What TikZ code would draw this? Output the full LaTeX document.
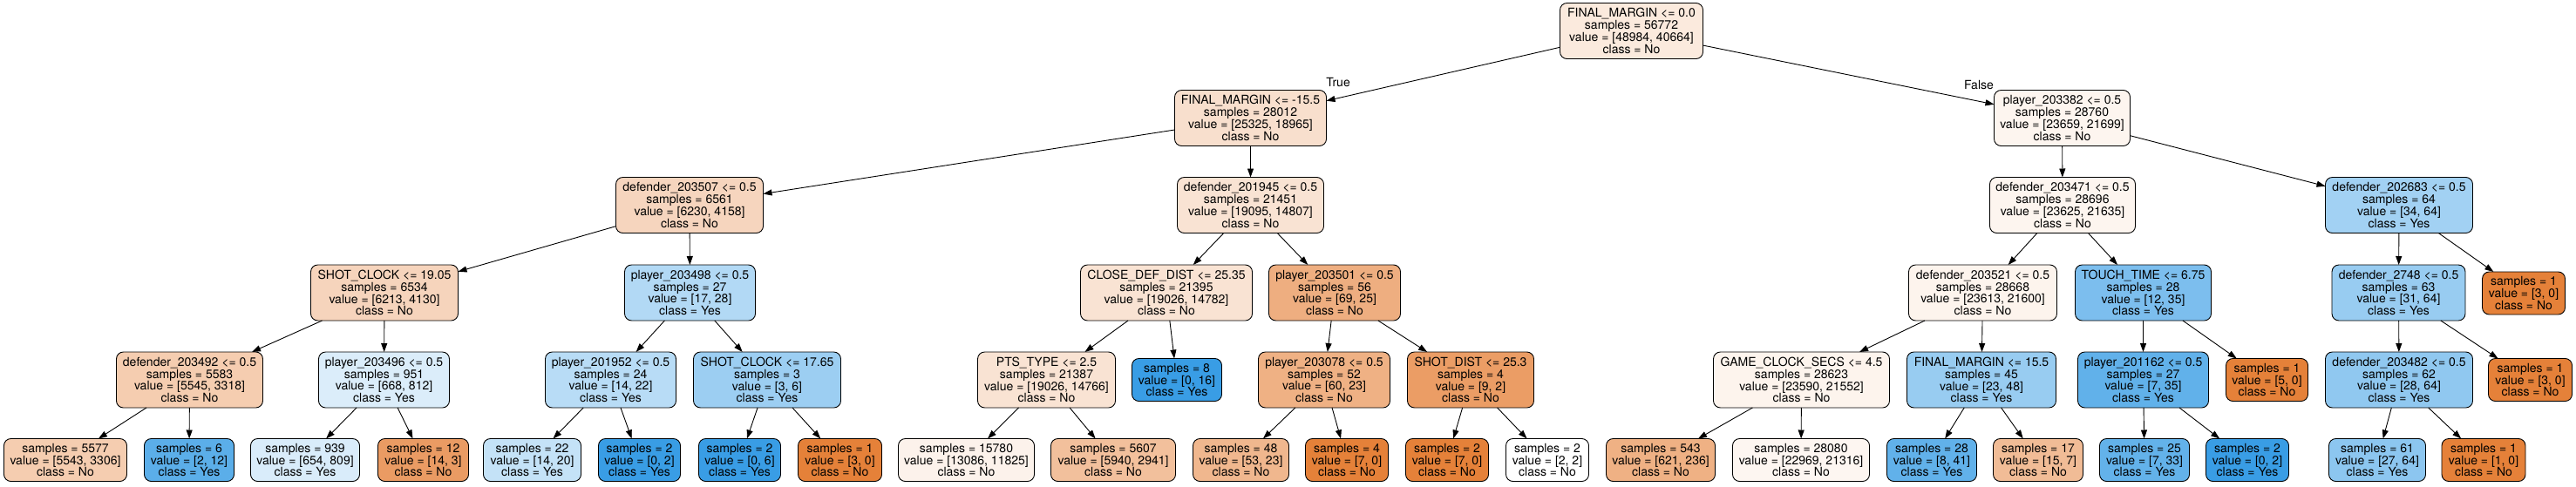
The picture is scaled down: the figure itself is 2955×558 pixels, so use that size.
\documentclass[tikz,border=0pt]{standalone}
\usepackage{fontspec}
\setmainfont{TeX Gyre Heros}
\usetikzlibrary{arrows.meta}
\definecolor{cno}{HTML}{E58139}
\definecolor{cyes}{HTML}{399DE5}
\newcommand{\fs}{\fontsize{14}{13.9}\selectfont}
\tikzset{
  box/.style={draw=black, line width=0.9pt, rounded corners=8pt, align=center,
    inner xsep=3pt, inner ysep=0pt, outer sep=0pt, font=\fs, text=black},
  dn/.style={box, minimum height=64pt},
  lf/.style={box, minimum height=49pt},
  arr/.style={-{Triangle[length=10pt,width=7pt]}, line width=0.9pt, draw=black},
  elab/.style={font=\fs, inner sep=0pt, anchor=base},
}
\newcommand{\dnode}[6]{\node[dn, fill=#5, minimum width=#4pt] (#1) at (#2,#3) {#6};}
\newcommand{\lnode}[6]{\node[lf, fill=#5, minimum width=#4pt] (#1) at (#2,#3) {#6};}
\begin{document}
\begin{tikzpicture}[x=1pt,y=-1pt]
\fill[white] (0,0) rectangle (2955,558);
\useasboundingbox (0,0) rectangle (2955,558);
% level 0
\dnode{root}{1871.5}{35.5}{164}{cno!17}{FINAL\_MARGIN <= 0.0\\samples = 56772\\value = [48984, 40664]\\class = No}
% level 1
\dnode{n1}{1434.5}{135.5}{174}{cno!25}{FINAL\_MARGIN <= -15.5\\samples = 28012\\value = [25325, 18965]\\class = No}
\dnode{n2}{2365.5}{135.5}{156}{cno!8}{player\_203382 <= 0.5\\samples = 28760\\value = [23659, 21699]\\class = No}
% level 2
\dnode{a1}{791}{235.5}{169}{cno!33}{defender\_203507 <= 0.5\\samples = 6561\\value = [6230, 4158]\\class = No}
\dnode{a2}{1434.5}{235.5}{168}{cno!22}{defender\_201945 <= 0.5\\samples = 21451\\value = [19095, 14807]\\class = No}
\dnode{a3}{2366}{235.5}{167}{cno!8}{defender\_203471 <= 0.5\\samples = 28696\\value = [23625, 21635]\\class = No}
\dnode{a4}{2752}{235.5}{169}{cyes!47}{defender\_202683 <= 0.5\\samples = 64\\value = [34, 64]\\class = Yes}
% level 3
\dnode{b1}{441}{336}{169}{cno!34}{SHOT\_CLOCK <= 19.05\\samples = 6534\\value = [6213, 4130]\\class = No}
\dnode{b2}{791.5}{336}{150}{cyes!39}{player\_203498 <= 0.5\\samples = 27\\value = [17, 28]\\class = Yes}
\dnode{b3}{1338}{336}{197}{cno!22}{CLOSE\_DEF\_DIST <= 25.35\\samples = 21395\\value = [19026, 14782]\\class = No}
\dnode{b4}{1531}{336}{151}{cno!64}{player\_203501 <= 0.5\\samples = 56\\value = [69, 25]\\class = No}
\dnode{b5}{2274.5}{336}{170}{cno!9}{defender\_203521 <= 0.5\\samples = 28668\\value = [23613, 21600]\\class = No}
\dnode{b6}{2458.5}{336}{156}{cyes!66}{TOUCH\_TIME <= 6.75\\samples = 28\\value = [12, 35]\\class = Yes}
\dnode{b7}{2751.5}{336}{153}{cyes!52}{defender\_2748 <= 0.5\\samples = 63\\value = [31, 64]\\class = Yes}
\lnode{b8}{2895}{336.5}{95}{cno}{samples = 1\\value = [3, 0]\\class = No}
% level 4
\dnode{c1}{217.5}{436}{168}{cno!40}{defender\_203492 <= 0.5\\samples = 5583\\value = [5545, 3318]\\class = No}
\dnode{c2}{440.5}{436}{150}{cyes!18}{player\_203496 <= 0.5\\samples = 951\\value = [668, 812]\\class = Yes}
\dnode{c3}{700.5}{436}{150}{cyes!36}{player\_201952 <= 0.5\\samples = 24\\value = [14, 22]\\class = Yes}
\dnode{c4}{880}{436}{169}{cyes!50}{SHOT\_CLOCK <= 17.65\\samples = 3\\value = [3, 6]\\class = Yes}
\dnode{c5}{1200.5}{436}{158}{cno!22}{PTS\_TYPE <= 2.5\\samples = 21387\\value = [19026, 14766]\\class = No}
\lnode{c6}{1350}{436}{103}{cyes}{samples = 8\\value = [0, 16]\\class = Yes}
\dnode{c7}{1519}{436}{151}{cno!62}{player\_203078 <= 0.5\\samples = 52\\value = [60, 23]\\class = No}
\dnode{c8}{1687}{436}{145}{cno!78}{SHOT\_DIST <= 25.3\\samples = 4\\value = [9, 2]\\class = No}
\dnode{c9}{2066.5}{436}{202}{cno!9}{GAME\_CLOCK\_SECS <= 4.5\\samples = 28623\\value = [23590, 21552]\\class = No}
\dnode{c10}{2273}{436}{171}{cyes!52}{FINAL\_MARGIN <= 15.5\\samples = 45\\value = [23, 48]\\class = Yes}
\dnode{c11}{2458.5}{436}{150}{cyes!80}{player\_201162 <= 0.5\\samples = 27\\value = [7, 35]\\class = Yes}
\lnode{c12}{2600.5}{436}{94}{cno}{samples = 1\\value = [5, 0]\\class = No}
\dnode{c13}{2752}{436}{169}{cyes!56}{defender\_203482 <= 0.5\\samples = 62\\value = [28, 64]\\class = Yes}
\lnode{c14}{2902.5}{436}{96}{cno}{samples = 1\\value = [3, 0]\\class = No}
% level 5
\lnode{d1}{75}{528}{141}{cno!40}{samples = 5577\\value = [5543, 3306]\\class = No}
\lnode{d2}{217}{528}{103}{cyes!83}{samples = 6\\value = [2, 12]\\class = Yes}
\lnode{d3}{350}{528}{125}{cyes!19}{samples = 939\\value = [654, 809]\\class = Yes}
\lnode{d4}{485.5}{528}{104}{cno!79}{samples = 12\\value = [14, 3]\\class = No}
\lnode{d5}{610.5}{528}{112}{cyes!30}{samples = 22\\value = [14, 20]\\class = Yes}
\lnode{d6}{733.5}{528}{94}{cyes}{samples = 2\\value = [0, 2]\\class = Yes}
\lnode{d7}{848.5}{528}{94}{cyes}{samples = 2\\value = [0, 6]\\class = Yes}
\lnode{d8}{963.5}{528}{96}{cno}{samples = 1\\value = [3, 0]\\class = No}
\lnode{d9}{1108.5}{528}{156}{cno!10}{samples = 15780\\value = [13086, 11825]\\class = No}
\lnode{d10}{1277}{528}{143}{cno!50}{samples = 5607\\value = [5940, 2941]\\class = No}
\lnode{d11}{1423.5}{528}{110}{cno!57}{samples = 48\\value = [53, 23]\\class = No}
\lnode{d12}{1545}{528}{95}{cno}{samples = 4\\value = [7, 0]\\class = No}
\lnode{d13}{1660}{528}{95}{cno}{samples = 2\\value = [7, 0]\\class = No}
\lnode{d14}{1775}{528}{95}{white}{samples = 2\\value = [2, 2]\\class = No}
\lnode{d15}{1905}{528}{125}{cno!62}{samples = 543\\value = [621, 236]\\class = No}
\lnode{d16}{2066}{528}{157}{cno!7}{samples = 28080\\value = [22969, 21316]\\class = No}
\lnode{d17}{2216}{528}{103}{cyes!80}{samples = 28\\value = [8, 41]\\class = Yes}
\lnode{d18}{2338}{528}{103}{cno!53}{samples = 17\\value = [15, 7]\\class = No}
\lnode{d19}{2460}{528}{103}{cyes!79}{samples = 25\\value = [7, 33]\\class = Yes}
\lnode{d20}{2578}{528}{95}{cyes}{samples = 2\\value = [0, 2]\\class = Yes}
\lnode{d21}{2727}{528}{111}{cyes!58}{samples = 61\\value = [27, 64]\\class = Yes}
\lnode{d22}{2849}{528}{96}{cno}{samples = 1\\value = [1, 0]\\class = No}
% edges
\foreach \p/\c in {root/n1, root/n2, n1/a1, n1/a2, n2/a3, n2/a4,
  a1/b1, a1/b2, a2/b3, a2/b4, a3/b5, a3/b6, a4/b7, a4/b8,
  b1/c1, b1/c2, b2/c3, b2/c4, b3/c5, b3/c6, b4/c7, b4/c8,
  b5/c9, b5/c10, b6/c11, b6/c12, b7/c13, b7/c14,
  c1/d1, c1/d2, c2/d3, c2/d4, c3/d5, c3/d6, c4/d7, c4/d8,
  c5/d9, c5/d10, c7/d11, c7/d12, c8/d13, c8/d14,
  c9/d15, c9/d16, c10/d17, c10/d18, c11/d19, c11/d20, c13/d21, c13/d22}
  \draw[arr] (\p) -- (\c);
% edge labels
\node[elab] (lblT) at (1535,99.5) {True};
\node[elab] (lblF) at (2270,102) {False};
\end{tikzpicture}
\end{document}
